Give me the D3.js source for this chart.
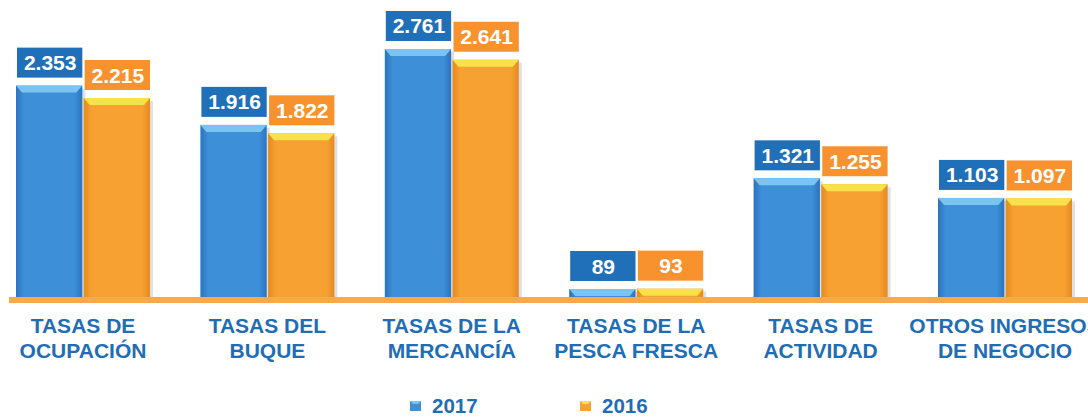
<!DOCTYPE html>
<html><head><meta charset="utf-8">
<script src="https://cdn.jsdelivr.net/npm/d3@7"></script>
<style>html,body{margin:0;padding:0;background:#fff;}svg{display:block;}</style>
</head><body>
<svg id="c" width="1088" height="417"></svg>
<script>
const categories = ["TASAS DE|OCUPACIÓN","TASAS DEL|BUQUE","TASAS DE LA|MERCANCÍA","TASAS DE LA|PESCA FRESCA","TASAS DE|ACTIVIDAD","OTROS INGRESOS|DE NEGOCIO"];
const seriesNames = ["2017","2016"];
const values2017 = [2353,1916,2761,89,1321,1103];
const values2016 = [2215,1822,2641,93,1255,1097];

const colors = {
  "2017": {bar:"#3d8fd8", dark:"#2b74bd", top:"#7cc4f0", box:"#1f6fb9"},
  "2016": {bar:"#f7a133", dark:"#e58a1f", top:"#f7e24a", box:"#f7922f"}
};
const textBlue = "#1f6db5";

const svg = d3.select("#c");
const defs = svg.append("defs");
seriesNames.forEach(s=>{
  const g = defs.append("linearGradient").attr("id","g"+s).attr("x1","0").attr("x2","1").attr("y1","0").attr("y2","0");
  g.append("stop").attr("offset","0").attr("stop-color",colors[s].dark);
  g.append("stop").attr("offset","0.12").attr("stop-color",colors[s].bar);
  g.append("stop").attr("offset","0.88").attr("stop-color",colors[s].bar);
  g.append("stop").attr("offset","1").attr("stop-color",colors[s].dark);
});

const x = d3.scalePoint().domain(categories).range([83,1005]);
const xs = d3.scaleBand().domain(seriesNames).range([-67,67]).paddingInner(0.02);
const y = d3.scaleLinear().domain([0,3000]).range([297,27.5]);
const fmt = d3.formatLocale({decimal:",",thousands:".",grouping:[3],currency:["","€"]}).format(",d");

const data = [];
categories.forEach((c,i)=>{
  data.push({c, s:"2017", v:values2017[i]});
  data.push({c, s:"2016", v:values2016[i]});
});

// shadows
svg.append("g").selectAll("rect").data(data).join("rect")
  .attr("x",d=>x(d.c)+xs(d.s)+3)
  .attr("y",d=>y(d.v)+3)
  .attr("width",xs.bandwidth())
  .attr("height",d=>y(0)-y(d.v))
  .attr("fill","#000").attr("opacity",0.12);

const bars = svg.append("g");
bars.selectAll("rect").data(data).join("rect")
  .attr("x",d=>x(d.c)+xs(d.s))
  .attr("y",d=>y(d.v))
  .attr("width",xs.bandwidth())
  .attr("height",d=>y(0)-y(d.v))
  .attr("fill",d=>`url(#g${d.s})`);

// top bevels
bars.selectAll("path").data(data).join("path")
  .attr("d",d=>{
    const x0=x(d.c)+xs(d.s), w=xs.bandwidth(), t=y(d.v);
    const h=Math.min(7,(y(0)-t));
    return `M${x0},${t}L${x0+w},${t}L${x0+w-6},${t+h}L${x0+6},${t+h}Z`;
  })
  .attr("fill",d=>colors[d.s].top);

// axis line
svg.append("rect").attr("x",9).attr("y",y(0)).attr("width",1079).attr("height",6).attr("fill","#f9a84c");

// value boxes
const lab = svg.append("g").selectAll("g").data(data).join("g")
  .attr("transform",d=>`translate(${x(d.c)+xs(d.s)},${y(d.v)-38})`);
lab.append("rect").attr("x",1).attr("width",xs.bandwidth()-1).attr("height",30).attr("fill",d=>colors[d.s].box);
lab.append("text").attr("x",xs.bandwidth()/2+1).attr("y",22.5).attr("text-anchor","middle")
  .attr("font-family","Liberation Sans, Arial, sans-serif").attr("font-weight","bold").attr("font-size",21)
  .attr("fill","#fff").text(d=>fmt(d.v));

// category labels
const cl = svg.append("g").selectAll("text").data(categories).join("text")
  .attr("x",d=>x(d)).attr("y",333).attr("text-anchor","middle")
  .attr("font-family","Liberation Sans, Arial, sans-serif").attr("font-weight","bold").attr("font-size",21)
  .attr("fill",textBlue);
cl.selectAll("tspan").data(d=>d.split("|")).join("tspan")
  .attr("x",function(){return x(d3.select(this.parentNode).datum());})
  .attr("dy",(d,i)=>i?24.5:0).text(d=>d);

// legend
const legX = {"2017":410,"2016":580};
const lg = svg.append("g").selectAll("g").data(seriesNames).join("g")
  .attr("transform",d=>`translate(${legX[d]},401)`);
lg.append("rect").attr("width",11).attr("height",10).attr("fill",d=>colors[d].bar);
lg.append("path").attr("d","M0,0L11,0L8,3L3,3Z").attr("fill",d=>colors[d].top);
lg.append("text").attr("x",22).attr("y",12).attr("font-family","Liberation Sans, Arial, sans-serif")
  .attr("font-weight","bold").attr("font-size",20.5).attr("fill",textBlue).text(d=>d);
</script>
</body></html>
